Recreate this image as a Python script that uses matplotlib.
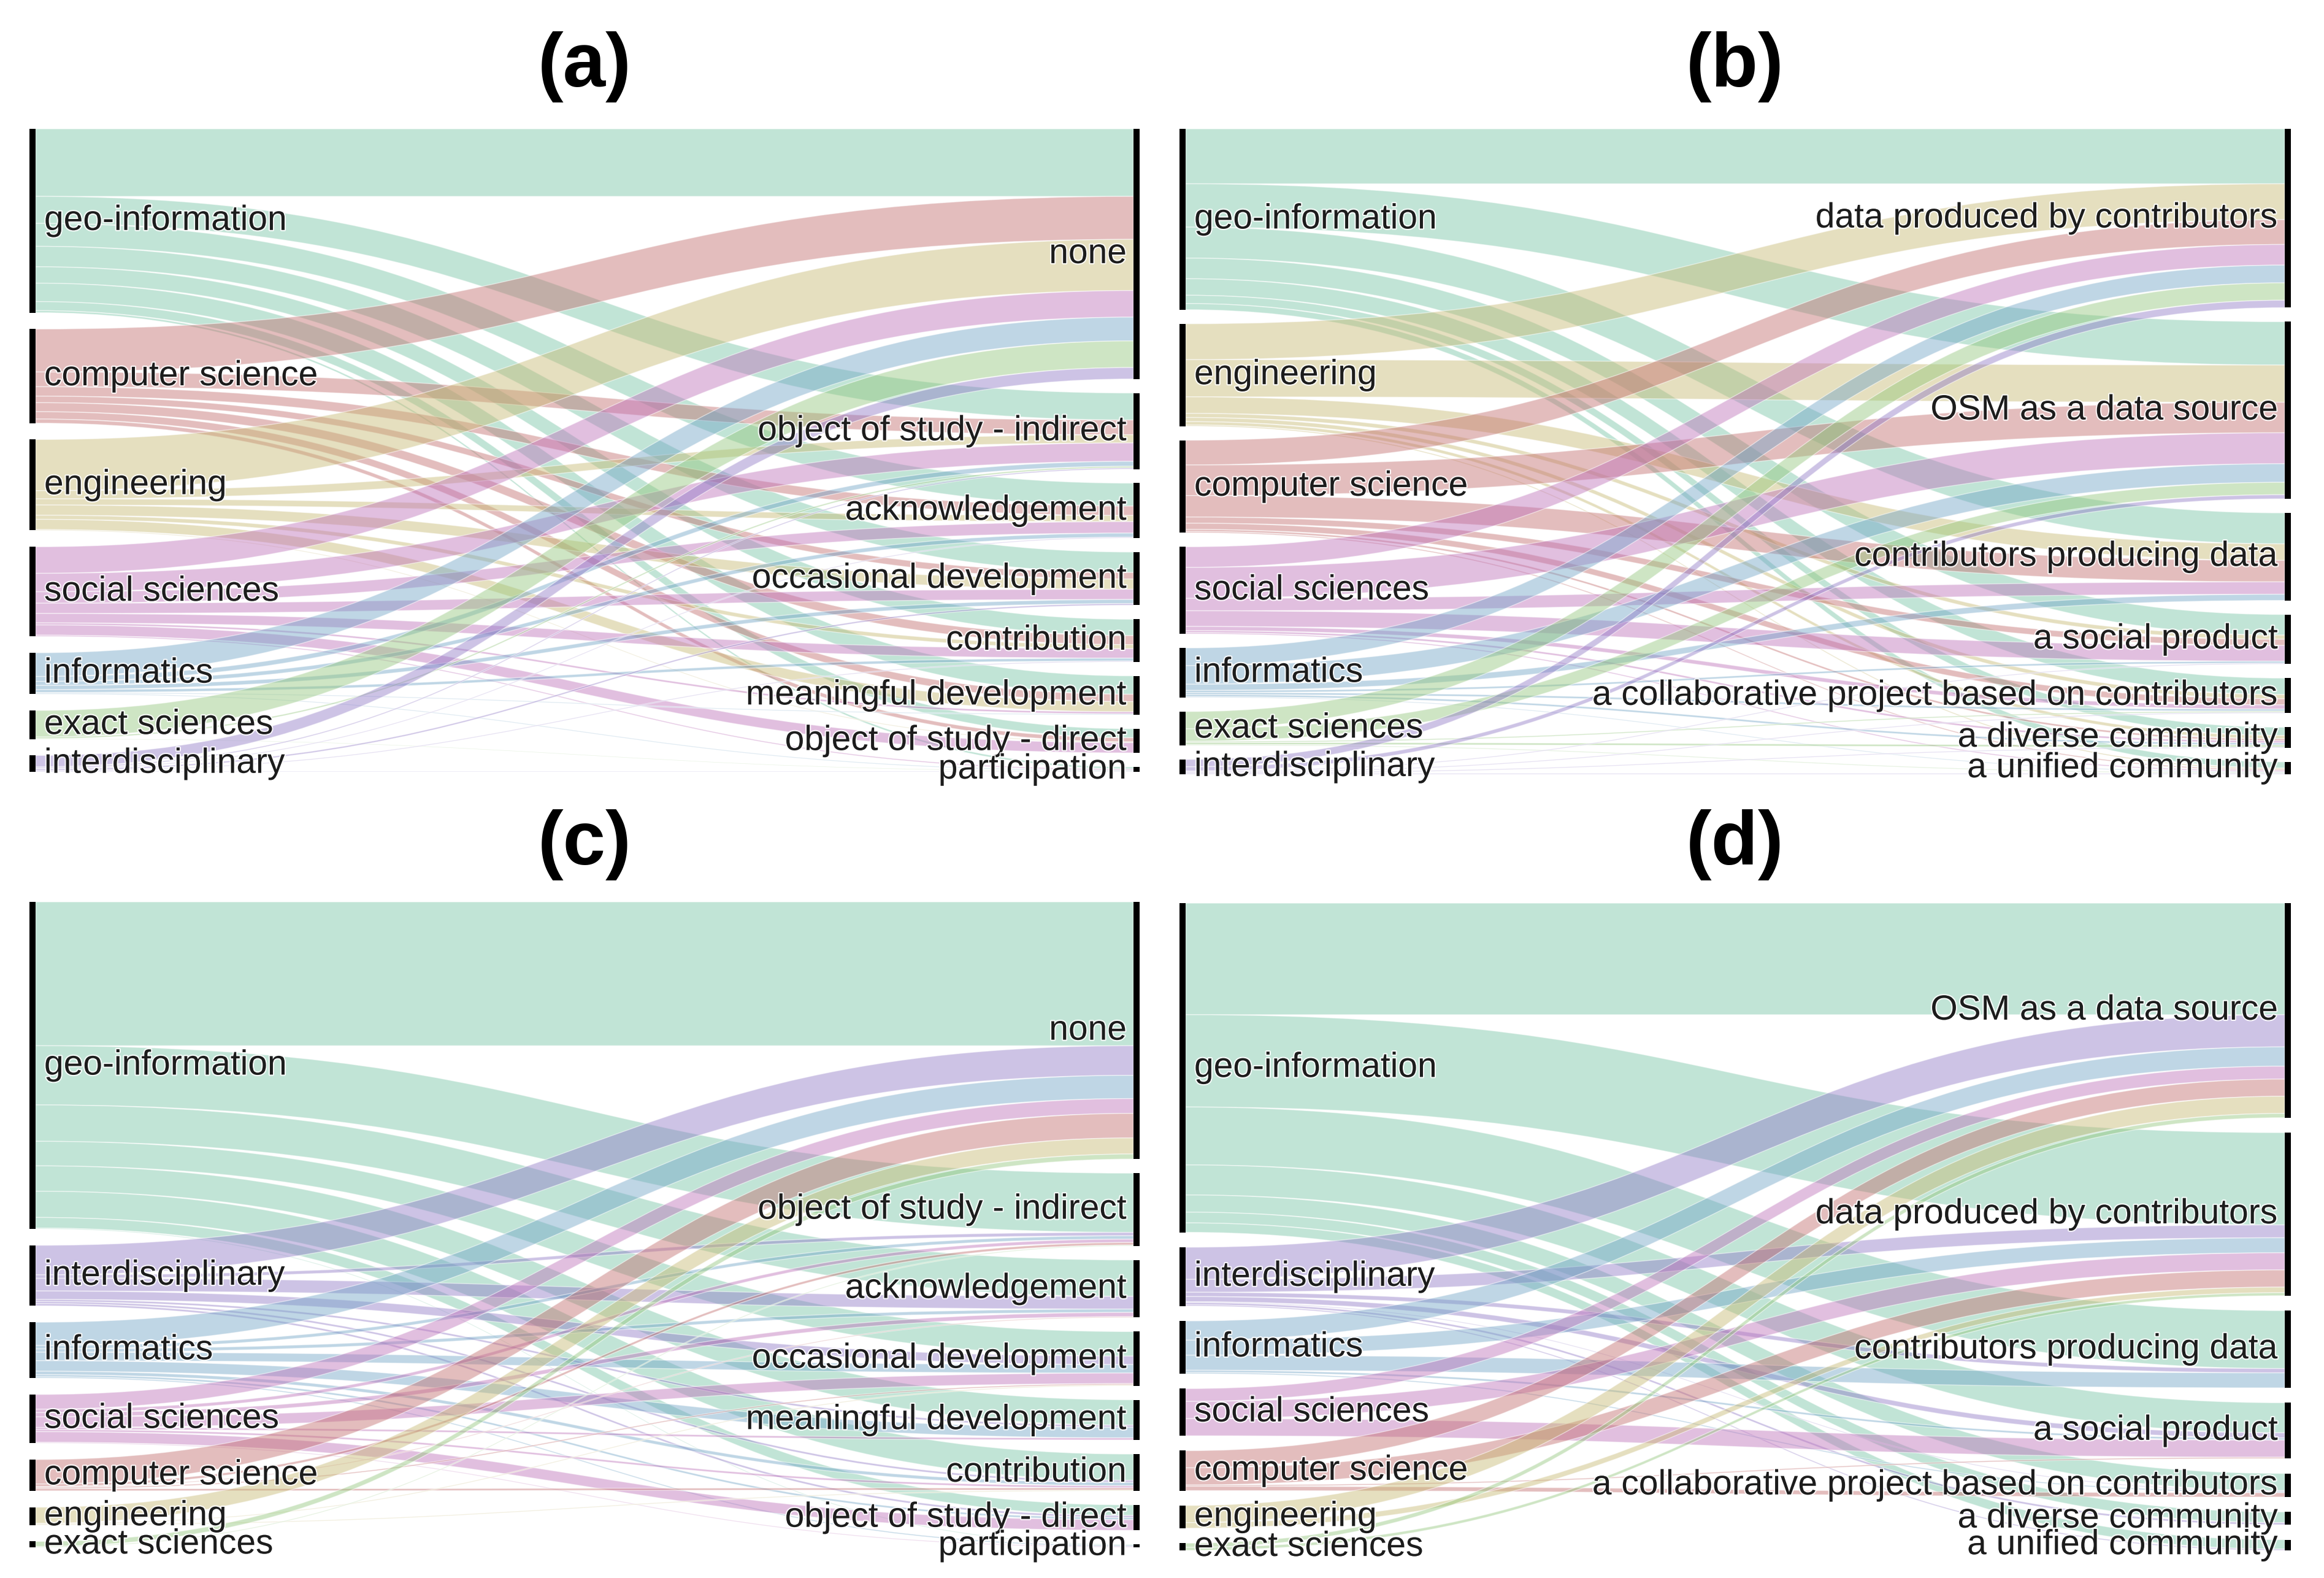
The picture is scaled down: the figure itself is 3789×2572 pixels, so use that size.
import matplotlib
matplotlib.use("Agg")
import matplotlib.pyplot as plt
from matplotlib.path import Path
from matplotlib.patches import PathPatch, Rectangle
import matplotlib.patheffects as pe
import numpy as np

W, H = 3789, 2572
DPI = 100

# ---------------- data ----------------
DISC_COLORS = {
    "geo-information": (119, 197, 164),
    "computer science": (195, 110, 110),
    "engineering": (199, 184, 115),
    "social sciences": (190, 113, 186),
    "informatics": (115, 164, 199),
    "exact sciences": (148, 199, 124),
    "interdisciplinary": (144, 122, 199),
}

# (a)
A_SOURCES = ["geo-information", "computer science", "engineering", "social sciences",
             "informatics", "exact sciences", "interdisciplinary"]
A_TARGETS = ["none", "object of study - indirect", "acknowledgement", "occasional development",
             "contribution", "meaningful development", "object of study - direct", "participation"]
A_FLOWS = [
    [165, 66, 56, 50, 40, 45, 22, 5],
    [105, 36, 23, 16, 22, 18, 10, 0],
    [125, 20, 15, 25, 10, 25, 2, 0],
    [65, 45, 28, 25, 23, 5, 25, 3],
    [58, 12, 10, 10, 7, 2, 0, 2],
    [65, 4, 0, 0, 0, 0, 0, 1],
    [28, 3, 2, 4, 2, 0, 0, 1],
]

# (b)
B_SOURCES = ["geo-information", "engineering", "computer science", "social sciences",
             "informatics", "exact sciences", "interdisciplinary"]
B_TARGETS = ["data produced by contributors", "OSM as a data source", "contributors producing data",
             "a social product", "a collaborative project based on contributors",
             "a diverse community", "a unified community"]
B_FLOWS = [
    [133, 105, 75, 50, 40, 20, 15],
    [87, 90, 40, 10, 10, 8, 3],
    [60, 74, 52, 15, 15, 5, 3],
    [50, 75, 30, 38, 10, 5, 3],
    [43, 45, 15, 5, 5, 5, 2],
    [42, 30, 0, 0, 3, 5, 2],
    [18, 10, 0, 2, 2, 2, 2],
]

# (c)
C_SOURCES = ["geo-information", "interdisciplinary", "informatics", "social sciences",
             "computer science", "engineering", "exact sciences"]
C_TARGETS = ["none", "object of study - indirect", "acknowledgement", "occasional development",
             "meaningful development", "contribution", "object of study - direct", "participation"]
C_FLOWS = [
    [340, 140, 86, 58, 60, 62, 25, 2],
    [70, 8, 30, 20, 5, 5, 5, 0],
    [55, 8, 8, 20, 25, 8, 5, 3],
    [35, 8, 10, 25, 5, 5, 25, 2],
    [58, 6, 2, 3, 0, 5, 0, 0],
    [38, 0, 0, 2, 0, 2, 0, 0],
    [12, 2, 0, 0, 0, 0, 0, 0],
]

# (d)
D_SOURCES = ["geo-information", "interdisciplinary", "informatics", "social sciences",
             "computer science", "engineering", "exact sciences"]
D_TARGETS = ["OSM as a data source", "data produced by contributors", "contributors producing data",
             "a social product", "a collaborative project based on contributors",
             "a diverse community", "a unified community"]
D_FLOWS = [
    [260, 215, 135, 70, 40, 25, 22],
    [75, 30, 10, 12, 2, 5, 3],
    [45, 35, 35, 5, 3, 0, 0],
    [30, 40, 0, 40, 0, 0, 0],
    [40, 40, 0, 3, 10, 0, 0],
    [40, 13, 0, 0, 0, 0, 0],
    [10, 7, 0, 0, 0, 0, 0],
]

PANEL_TITLES = ["(a)", "(b)", "(c)", "(d)"]

# ---------------- drawing ----------------
FONT = "Liberation Sans"
LINK_ALPHA = 0.45

fig = plt.figure(figsize=(W / DPI, H / DPI), dpi=DPI)
fig.patch.set_facecolor("white")


def rgba(name, a):
    r, g, b = DISC_COLORS[name]
    return (r / 255, g / 255, b / 255, a)


def draw_panel(box, title, title_y, sources, targets, flows, gapfrac):
    x0, x1, y0, y1 = box
    ax = fig.add_axes([x0 / W, 1 - y1 / H, (x1 - x0) / W, (y1 - y0) / H])
    F = np.array(flows, dtype=float)
    S = F.sum()
    Ht = S * (1 + gapfrac)
    ax.set_xlim(0, 1)
    ax.set_ylim(Ht, 0)
    ax.axis("off")

    bw = 10.0 / (x1 - x0)
    sv = F.sum(axis=1)
    tv = F.sum(axis=0)
    padL = (Ht - S) / (len(sources) - 1)
    padR = (Ht - S) / (len(targets) - 1)
    sy = np.concatenate([[0], np.cumsum(sv + padL)[:-1]])
    ty = np.concatenate([[0], np.cumsum(tv + padR)[:-1]])

    t_off = ty.copy()
    s_off = sy.copy()
    xa, xb = bw, 1 - bw
    xm = (xa + xb) / 2
    link_geom = {}
    for i in range(len(sources)):
        for j in range(len(targets)):
            f = F[i, j]
            if f <= 0:
                continue
            link_geom[(i, j)] = [s_off[i], s_off[i] + f]
            s_off[i] += f
    for j in range(len(targets)):
        for i in range(len(sources)):
            f = F[i, j]
            if f <= 0:
                continue
            link_geom[(i, j)] += [t_off[j], t_off[j] + f]
            t_off[j] += f

    for i in range(len(sources)):
        for j in range(len(targets)):
            if (i, j) not in link_geom:
                continue
            a0, a1, b0, b1 = link_geom[(i, j)]
            verts = [(xa, a0), (xm, a0), (xm, b0), (xb, b0), (xb, b1),
                     (xm, b1), (xm, a1), (xa, a1), (xa, a0)]
            codes = [Path.MOVETO, Path.CURVE4, Path.CURVE4, Path.CURVE4, Path.LINETO,
                     Path.CURVE4, Path.CURVE4, Path.CURVE4, Path.CLOSEPOLY]
            patch = PathPatch(Path(verts, codes), facecolor=rgba(sources[i], LINK_ALPHA),
                              edgecolor=(1, 1, 1, 0.55), lw=1.0, zorder=2)
            ax.add_patch(patch)

    for i, name in enumerate(sources):
        ax.add_patch(Rectangle((0, sy[i]), bw, sv[i], facecolor="black",
                               edgecolor="none", zorder=3))
    for j, name in enumerate(targets):
        ax.add_patch(Rectangle((1 - bw, ty[j]), bw, tv[j], facecolor="black",
                               edgecolor="none", zorder=3))

    stroke = [pe.withStroke(linewidth=3, foreground=(1, 1, 1, 0.85))]
    lx = 24.0 / (x1 - x0)
    for i, name in enumerate(sources):
        ax.text(lx, sy[i] + sv[i] / 2, name, ha="left", va="center", fontsize=41,
                family=FONT, color="#1c1c1c", zorder=5, path_effects=stroke)
    rx = 1 - 21.0 / (x1 - x0)
    for j, name in enumerate(targets):
        ax.text(rx, ty[j] + tv[j] / 2, name, ha="right", va="center", fontsize=41,
                family=FONT, color="#1c1c1c", zorder=5, path_effects=stroke)

    fig.text(((x0 + x1) / 2) / W, 1 - title_y / H, title, ha="center", va="center",
             fontsize=90, fontweight="bold", family=FONT, color="black")


draw_panel((48, 1858, 210, 1258), PANEL_TITLES[0], 109, A_SOURCES, A_TARGETS, A_FLOWS, 0.18)
draw_panel((1923, 3735, 210, 1262), PANEL_TITLES[1], 109, B_SOURCES, B_TARGETS, B_FLOWS, 0.15)
draw_panel((48, 1858, 1470, 2522), PANEL_TITLES[2], 1377, C_SOURCES, C_TARGETS, C_FLOWS, 0.18)
draw_panel((1923, 3735, 1472, 2527), PANEL_TITLES[3], 1377, D_SOURCES, D_TARGETS, D_FLOWS, 0.16)

fig.savefig("out.png", dpi=DPI, facecolor="white")
